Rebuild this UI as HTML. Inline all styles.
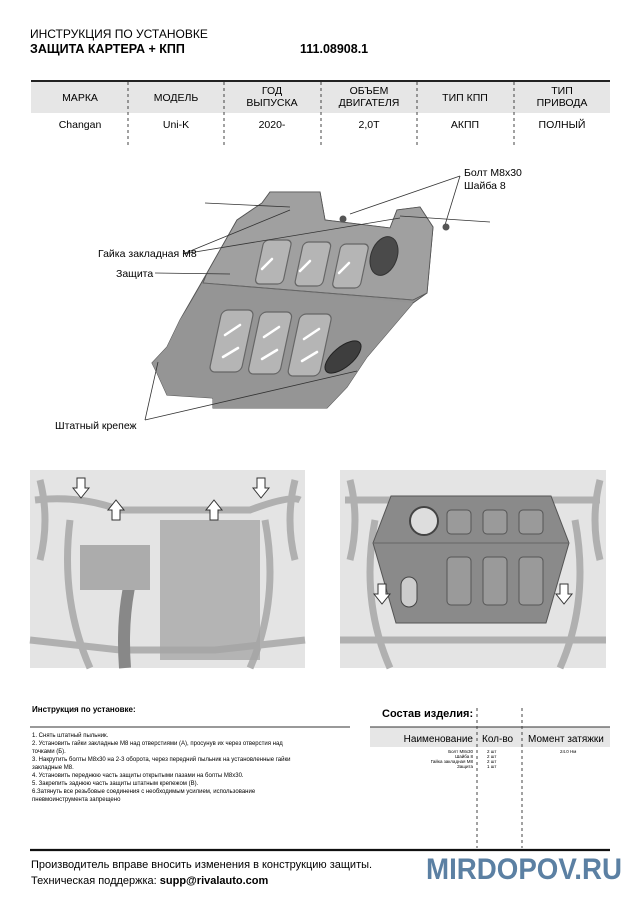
<!DOCTYPE html>
<html><head><meta charset="utf-8"><style>
body{margin:0;background:#fff;width:636px;height:900px;overflow:hidden;position:relative;font-family:"Liberation Sans",sans-serif;color:#111}
.a{position:absolute;white-space:nowrap}
</style></head><body>
<svg class="a" style="left:0;top:0" width="636" height="900" viewBox="0 0 636 900" font-family="Liberation Sans, sans-serif">
<!-- header -->
<text x="30" y="38" font-size="12">ИНСТРУКЦИЯ ПО УСТАНОВКЕ</text>
<text x="30" y="53" font-size="12.5" font-weight="bold">ЗАЩИТА КАРТЕРА + КПП</text>
<text x="300" y="53" font-size="12.5" font-weight="bold">111.08908.1</text>
<!-- table -->
<rect x="31" y="81" width="579" height="32" fill="#e6e6e6"/>
<line x1="31" y1="81" x2="610" y2="81" stroke="#222" stroke-width="2"/>
<g stroke="#444" stroke-width="1" stroke-dasharray="3,3">
<line x1="128" y1="82" x2="128" y2="148"/><line x1="224" y1="82" x2="224" y2="148"/><line x1="321" y1="82" x2="321" y2="148"/><line x1="417" y1="82" x2="417" y2="148"/><line x1="514" y1="82" x2="514" y2="148"/>
</g>
<g font-size="10.5" text-anchor="middle">
<text x="80" y="101">МАРКА</text><text x="176" y="101">МОДЕЛЬ</text>
<text x="272" y="94">ГОД</text><text x="272" y="106">ВЫПУСКА</text>
<text x="369" y="94">ОБЪЕМ</text><text x="369" y="106">ДВИГАТЕЛЯ</text>
<text x="465" y="101">ТИП КПП</text>
<text x="562" y="94">ТИП</text><text x="562" y="106">ПРИВОДА</text>
<text x="80" y="128">Changan</text><text x="176" y="128">Uni-K</text><text x="272" y="128">2020-</text><text x="369" y="128">2,0T</text><text x="465" y="128">АКПП</text><text x="562" y="128">ПОЛНЫЙ</text>
</g>
<!-- plate drawing -->
<polygon points="262,203 270,192 320,192 325,220 390,228 397,210 420,207 433,227 427,293 413,303 367,357 347,387 327,408 213,408 213,398 167,395 157,373 152,363 167,347 180,320 207,273 237,220" fill="#939393" stroke="#555" stroke-width="1"/>
<polygon points="262,203 237,220 207,273 203,283 413,300 427,293 433,227 420,207 397,210 390,228 325,220 320,192 270,192" fill="#a0a0a0" stroke="#555" stroke-width="0.8"/>
<polygon points="180,320 167,347 152,363 157,373 167,395 213,398 213,408 327,408 347,387 367,357 413,303 203,283" fill="#959595"/>
<line x1="203" y1="283" x2="413" y2="300" stroke="#666"/>
<g fill="#b5b5b5" stroke="#666" stroke-width="1.2">
<rect x="255" y="240" width="28" height="44" rx="5" transform="skewX(-12) translate(60,0)"/>
<rect x="295" y="242" width="28" height="44" rx="5" transform="skewX(-12) translate(60,0)"/>
<rect x="333" y="244" width="28" height="44" rx="5" transform="skewX(-12) translate(60,0)"/>
<rect x="223" y="310" width="32" height="62" rx="6" transform="skewX(-12) translate(65,0)"/>
<rect x="262" y="312" width="32" height="62" rx="6" transform="skewX(-12) translate(65,0)"/>
<rect x="302" y="314" width="32" height="62" rx="6" transform="skewX(-12) translate(65,0)"/>
</g>
<ellipse cx="384" cy="256" rx="13" ry="20" transform="rotate(20 384 256)" fill="#4a4a4a" stroke="#333"/>
<ellipse cx="343" cy="357" rx="10" ry="22" transform="rotate(50 343 357)" fill="#3e3e3e" stroke="#222"/>
<g stroke="#fff" stroke-width="2.5" stroke-linecap="round">
<line x1="262" y1="269" x2="272" y2="259"/><line x1="300" y1="271" x2="310" y2="261"/><line x1="339" y1="273" x2="349" y2="263"/>
<line x1="225" y1="335" x2="240" y2="325"/><line x1="223" y1="357" x2="238" y2="348"/>
<line x1="264" y1="337" x2="279" y2="327"/><line x1="262" y1="359" x2="277" y2="350"/>
<line x1="304" y1="339" x2="319" y2="329"/><line x1="302" y1="361" x2="317" y2="352"/>
</g>
<g stroke="#333" stroke-width="0.8" fill="none">
<line x1="205" y1="203" x2="290" y2="207"/><line x1="400" y1="216" x2="490" y2="222"/>
<line x1="183" y1="254" x2="290" y2="210"/><line x1="183" y1="254" x2="400" y2="218"/>
<line x1="155" y1="273" x2="230" y2="274"/>
<line x1="460" y1="176" x2="350" y2="214"/><line x1="460" y1="176" x2="445" y2="225"/>
<line x1="145" y1="420" x2="158" y2="362"/><line x1="145" y1="420" x2="357" y2="371"/>
</g>
<circle cx="343" cy="219" r="3.5" fill="#555"/><circle cx="446" cy="227" r="3.5" fill="#555"/>
<g font-size="10.5">
<text x="464" y="176">Болт М8х30</text><text x="464" y="189">Шайба 8</text>
<text x="98" y="257">Гайка закладная М8</text><text x="116" y="277">Защита</text>
<text x="55" y="429">Штатный крепеж</text>
</g>
<!-- photos -->
<rect x="30" y="470" width="275" height="198" fill="#e4e4e4"/>
<rect x="340" y="470" width="266" height="198" fill="#e4e4e4"/>
<g fill="none" stroke="#b0b0b0" stroke-width="7">
<path d="M35 500 Q80 495 120 510 L250 510 Q290 495 300 500"/>
<path d="M70 520 Q60 600 90 668"/><path d="M265 520 Q280 600 250 668"/>
<path d="M30 640 L120 650 L215 650 L305 640"/>
<path d="M40 480 Q50 520 40 560"/><path d="M295 480 Q285 520 295 560"/>
<path d="M345 500 L600 500"/><path d="M375 520 Q360 600 390 668"/><path d="M575 520 Q590 600 560 668"/>
<path d="M340 640 L606 640"/>
<path d="M350 480 Q360 520 350 560"/><path d="M600 480 Q590 520 600 560"/>
</g>
<path d="M140 550 Q120 600 125 668" stroke="#888" stroke-width="12" fill="none"/>
<rect x="160" y="520" width="100" height="140" fill="#a4a4a4" opacity="0.75"/>
<rect x="80" y="545" width="70" height="45" fill="#acacac"/>
<polygon points="391,496 551,496 569,543 546,623 396,623 373,543" fill="#8a8a8a" stroke="#555"/>
<line x1="373" y1="543" x2="569" y2="543" stroke="#666"/>
<circle cx="424" cy="521" r="14" fill="#ddd" stroke="#444" stroke-width="2"/>
<g fill="#9a9a9a" stroke="#555">
<rect x="447" y="510" width="24" height="24" rx="4"/><rect x="483" y="510" width="24" height="24" rx="4"/><rect x="519" y="510" width="24" height="24" rx="4"/>
<rect x="447" y="557" width="24" height="48" rx="4"/><rect x="483" y="557" width="24" height="48" rx="4"/><rect x="519" y="557" width="24" height="48" rx="4"/>
</g>
<rect x="401" y="577" width="16" height="30" rx="8" fill="#ccc" stroke="#444"/>
<g fill="#fff" stroke="#333" stroke-width="1">
<path d="M77 478 h8 v10 h4 l-8 10 l-8 -10 h4z"/><path d="M257 478 h8 v10 h4 l-8 10 l-8 -10 h4z"/>
<path d="M112 520 h8 v-10 h4 l-8 -10 l-8 10 h4z"/><path d="M210 520 h8 v-10 h4 l-8 -10 l-8 10 h4z"/>
<path d="M378 584 h8 v10 h4 l-8 10 l-8 -10 h4z"/><path d="M560 584 h8 v10 h4 l-8 10 l-8 -10 h4z"/>
</g>
<!-- bottom section -->
<text x="32" y="712" font-size="8" font-weight="bold">Инструкция по установке:</text>
<line x1="30" y1="727" x2="350" y2="727" stroke="#333" stroke-width="1"/>
<g font-size="6">
<text x="32" y="737">1. Снять штатный пыльник.</text>
<text x="32" y="745">2. Установить гайки закладные М8 над отверстиями (А), просунув их через отверстия над</text>
<text x="32" y="753">точками (Б).</text>
<text x="32" y="761">3. Накрутить болты М8х30 на 2-3 оборота, через передний пыльник на установленные гайки</text>
<text x="32" y="769">закладные М8.</text>
<text x="32" y="777">4. Установить переднюю часть защиты открытыми пазами на болты М8х30.</text>
<text x="32" y="785">5. Закрепить заднюю часть защиты штатным крепежом (В).</text>
<text x="32" y="793">6.Затянуть все резьбовые соединения с необходимым усилием, использование</text>
<text x="32" y="801">пневмоинструмента запрещено</text>
</g>
<text x="382" y="717" font-size="11" font-weight="bold">Состав изделия:</text>
<rect x="370" y="727" width="240" height="20" fill="#e6e6e6"/>
<line x1="370" y1="727" x2="610" y2="727" stroke="#333"/>
<g stroke="#444" stroke-dasharray="3,3"><line x1="477" y1="708" x2="477" y2="848"/><line x1="522" y1="708" x2="522" y2="848"/></g>
<text x="473" y="742" font-size="10" text-anchor="end">Наименование</text>
<text x="482" y="742" font-size="10">Кол-во</text>
<text x="528" y="742" font-size="10">Момент затяжки</text>
<g font-size="4.5">
<text x="473" y="753" text-anchor="end">Болт М8х30</text><text x="473" y="758" text-anchor="end">Шайба 8</text><text x="473" y="763" text-anchor="end">Гайка закладная М8</text><text x="473" y="768" text-anchor="end">Защита</text>
<text x="487" y="753">2 шт</text><text x="487" y="758">2 шт</text><text x="487" y="763">2 шт</text><text x="487" y="768">1 шт</text>
<text x="560" y="753">24.0 Нм</text>
</g>
<line x1="30" y1="850" x2="610" y2="850" stroke="#111" stroke-width="2.2"/>
<text x="31" y="868" font-size="11">Производитель вправе вносить изменения в конструкцию защиты.</text>
<text x="31" y="884" font-size="11">Техническая поддержка: <tspan font-weight="bold">supp@rivalauto.com</tspan></text>
<text x="426" y="879" font-size="30" font-weight="bold" fill="#5b80a3" textLength="196" lengthAdjust="spacingAndGlyphs">MIRDOPOV.RU</text>
</svg>
</body></html>
